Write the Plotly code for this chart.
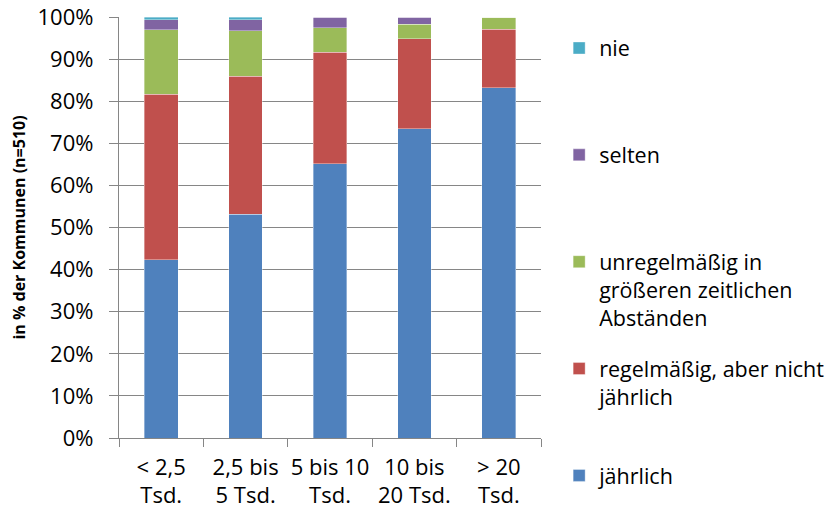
import plotly.graph_objects as go

# Gemeindegrößenklassen
categories = ["< 2,5<br>Tsd.", "2,5 bis<br>5 Tsd.", "5 bis 10<br>Tsd.", "10 bis<br>20 Tsd.", "> 20<br>Tsd."]

# Anteile in % (von unten nach oben gestapelt)
jaehrlich = [42.3, 53.2, 65.2, 73.5, 83.2]
regelmaessig = [39.3, 32.7, 26.4, 21.3, 13.9]
unregelmaessig = [15.4, 10.8, 5.9, 3.5, 2.9]
selten = [2.4, 2.7, 2.5, 1.7, 0.0]
nie = [0.6, 0.6, 0.0, 0.0, 0.0]

y_ticks = [0, 10, 20, 30, 40, 50, 60, 70, 80, 90, 100]
y_ticklabels = [f"{v}%" for v in y_ticks]

# legend entries padded to the same height, so the entries are spaced evenly like in Excel
# (last column: number of padded lines)
pad = "<br>&nbsp;"
series = [
    ("jährlich", jaehrlich, "#4F81BD", 0),
    ("regelmäßig, aber nicht<br>jährlich", regelmaessig, "#C0504D", 1),
    ("unregelmäßig in<br>größeren zeitlichen<br>Abständen", unregelmaessig, "#9BBB59", 0),
    ("selten", selten, "#8064A2", 2),
    ("nie", nie, "#4BACC6", 2),
]

FONT = "Open Sans"
fig = go.Figure()
n = len(series)
for i, (name, vals, col, npad) in enumerate(series):
    fig.add_trace(go.Bar(
        x=categories, y=vals, name=name + pad * npad,
        legendgroup=name, legendrank=n - i,
        marker=dict(color=col, line=dict(color="rgba(255,255,255,0.6)", width=0.6)),
    ))

# the page body has an 8px margin, so the figure is 8px smaller than the window
fig.update_layout(
    barmode="stack",
    bargap=0.6,
    width=826, height=509,
    margin=dict(l=111, r=293, t=9, b=79, autoexpand=False),
    plot_bgcolor="white", paper_bgcolor="white",
    font=dict(family=FONT, size=22, color="#000000"),
    legend=dict(
        traceorder="grouped",
        valign="top",
        x=1.043, xanchor="left",
        y=0.975, yanchor="top",
        maxheight=500,
        font=dict(family=FONT, size=21.5),
        itemwidth=30,
        tracegroupgap=20,
        bgcolor="rgba(0,0,0,0)",
    ),
)

fig.update_xaxes(
    tickson="boundaries",
    tickangle=0,
    ticks="outside", ticklen=8, tickcolor="#868686", tickwidth=1.3,
    ticklabelstandoff=9,
    showline=True, linecolor="#868686", linewidth=1.3,
    showgrid=False,
    tickfont=dict(family=FONT, size=22),
)

fig.update_yaxes(
    range=[0, 100],
    tickvals=y_ticks, ticktext=y_ticklabels,
    ticks="outside", ticklen=9, tickcolor="#868686", tickwidth=1.3,
    ticklabelstandoff=11, ticklabeloverflow="allow",
    showline=True, linecolor="#868686", linewidth=1.3,
    showgrid=True, gridcolor="#868686", gridwidth=1.3,
    zeroline=False,
    tickfont=dict(family=FONT, size=22),
    title=dict(text="<b>in % der Kommunen (n=510)</b>",
               font=dict(family=FONT, size=16), standoff=14),
)

fig.write_html("out.html")
